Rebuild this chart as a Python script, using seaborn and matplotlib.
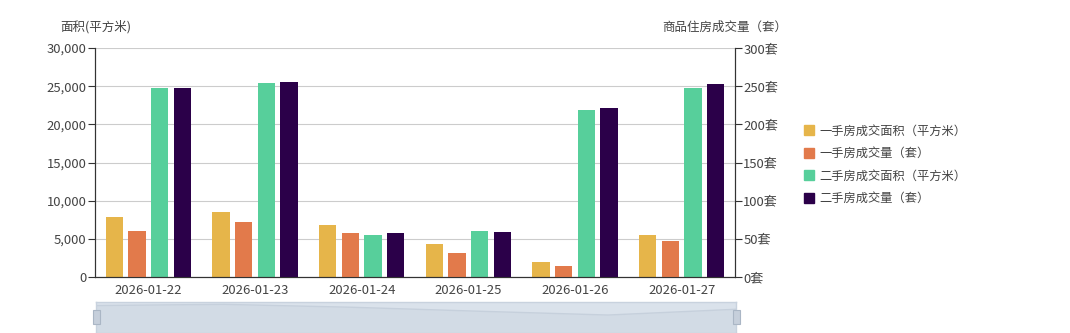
import matplotlib
matplotlib.use("Agg")
import matplotlib.pyplot as plt
from matplotlib.patches import Rectangle
from matplotlib.lines import Line2D
from matplotlib.ticker import FuncFormatter, FixedLocator
import seaborn as sns
import pandas as pd
import numpy as np

# Daily housing transactions
dates = ["2026-01-22", "2026-01-23", "2026-01-24", "2026-01-25", "2026-01-26", "2026-01-27"]
new_area = [7820, 8560, 6770, 4320, 2010, 5550]        # 一手房成交面积（平方米）
new_units = [60, 72, 57, 31, 15, 47]                   # 一手房成交量（套）
second_area = [24720, 25380, 5460, 6070, 21920, 24800]  # 二手房成交面积（平方米）
second_units = [248, 256, 57, 59, 221, 253]            # 二手房成交量（套）

series_names = ["一手房成交面积（平方米）", "一手房成交量（套）",
                "二手房成交面积（平方米）", "二手房成交量（套）"]
colors = ["#E6B54A", "#E27A4B", "#57CF9B", "#2B0049"]
palette = dict(zip(series_names, colors))

area_df = pd.DataFrame({
    "date": dates * 2,
    "value": new_area + second_area,
    "series": [series_names[0]] * len(dates) + [series_names[2]] * len(dates),
})
unit_df = pd.DataFrame({
    "date": dates * 2,
    "value": new_units + second_units,
    "series": [series_names[1]] * len(dates) + [series_names[3]] * len(dates),
})

sns.set_theme(style="white")
plt.rcParams["font.family"] = ["Noto Sans CJK SC", "DejaVu Sans"]
text_color = "#444444"
axis_color = "#333333"

fig = plt.figure(figsize=(10.70, 3.33), dpi=100)
ax = fig.add_axes([95 / 1070, 1 - 277 / 333, 640 / 1070, 229 / 333])
ax2 = ax.twinx()

bar_kw = dict(x="date", y="value", hue="series", hue_order=series_names,
              order=dates, palette=palette, width=0.85, gap=0.24,
              legend=False, saturation=1, linewidth=0)
sns.barplot(data=area_df, ax=ax, **bar_kw)
sns.barplot(data=unit_df, ax=ax2, **bar_kw)

ax.set_ylim(0, 30000)
ax2.set_ylim(0, 300)
ax.set_xlim(-0.5, len(dates) - 0.5)
ax.set_yticks(np.arange(0, 30001, 5000))
ax2.set_yticks(np.arange(0, 301, 50))
ax.yaxis.set_major_formatter(FuncFormatter(lambda v, p: f"{int(v):,}"))
ax2.yaxis.set_major_formatter(FuncFormatter(lambda v, p: f"{int(v)}套"))

ax.grid(axis="y", color="#cccccc", linewidth=0.8)
ax.set_axisbelow(True)
ax2.grid(False)

# category boundaries carry the tick marks, labels sit at the centres
ax.xaxis.set_major_locator(FixedLocator(np.arange(-0.5, len(dates), 1.0)))
ax.xaxis.set_minor_locator(FixedLocator(np.arange(len(dates))))
ax.set_xticklabels([], minor=False)
ax.set_xticklabels(dates, minor=True)
ax.tick_params(axis="x", which="major", length=5, width=0.8, color=axis_color, direction="out")
ax.tick_params(axis="x", which="minor", length=0, pad=5, labelsize=9.4, labelcolor=text_color)
ax.tick_params(axis="y", length=5, width=0.8, color=axis_color, direction="out",
               labelsize=9.4, labelcolor=text_color, pad=1)
ax2.tick_params(axis="y", length=5, width=0.8, color=axis_color, direction="out",
                labelsize=9.4, labelcolor=text_color, pad=1)

for a in (ax, ax2):
    a.set_xlabel("")
    a.set_ylabel("")
    a.spines["top"].set_visible(False)
    for s in ("left", "right", "bottom"):
        a.spines[s].set_color(axis_color)
        a.spines[s].set_linewidth(0.8)

fig.text(60 / 1070, 1 - 27 / 333, "面积(平方米)", fontsize=9, color=text_color,
         ha="left", va="center")
fig.text(787 / 1070, 1 - 27 / 333, "商品住房成交量（套）", fontsize=9, color=text_color,
         ha="right", va="center")

# legend
handles = [Line2D([0], [0], marker="s", linestyle="", markersize=7.5,
                  markerfacecolor=c, markeredgecolor=c) for c in colors]
fig.legend(handles, series_names, loc="center left",
           bbox_to_anchor=(798 / 1070, 1 - 165 / 333), frameon=False,
           fontsize=8.8, labelcolor=text_color, handletextpad=0.35,
           labelspacing=0.78, handlelength=1.0, borderaxespad=0)

# data zoom slider below the chart
sl = fig.add_axes([96 / 1070, 0, 640 / 1070, 31 / 333])
xs = np.arange(len(dates))
sl.set_xlim(0, len(dates) - 1)
sl.set_ylim(-9000, 10000)
sl.set_facecolor("#dae2eb")
sl.fill_between(xs, new_area, -9000, color="#d2dbe5", linewidth=0)
sl.plot(xs, new_area, color="#c6d0dc", linewidth=1.0)
for s in sl.spines.values():
    s.set_color("#c8d2de")
    s.set_linewidth(1.0)
sl.set_xticks([])
sl.set_yticks([])
for hx in (96, 736):
    fig.patches.append(Rectangle(((hx - 3) / 1070, 1 - 324 / 333), 7 / 1070, 14 / 333,
                                 transform=fig.transFigure, facecolor="#c6cfdb",
                                 edgecolor="#aab6c5", linewidth=0.8, zorder=5))

fig.savefig("out.png", dpi=100, facecolor="white")
